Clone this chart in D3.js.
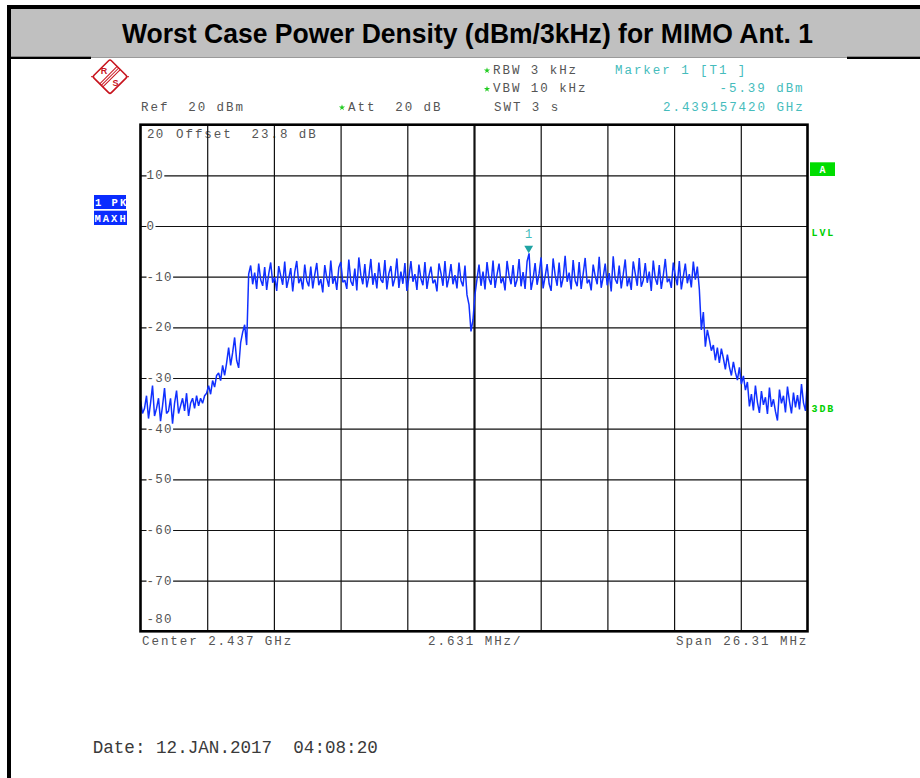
<!DOCTYPE html>
<html><head><meta charset="utf-8">
<script src="https://cdn.jsdelivr.net/npm/d3@7"></script>
<style>body{margin:0;background:#fff;} svg{display:block;}</style>
</head><body><svg id="c" width="920" height="778"></svg>
<script>
// ---------------- data ----------------
const chartTitle = "Worst Case Power Density (dBm/3kHz) for MIMO Ant. 1";
const centerGHz = 2.437;
const spanMHz = 26.31;
const refLevel = 20;
const bottomLevel = -80;
const yGridTicks = [10, 0, -10, -20, -30, -40, -50, -60, -70];
const yTickLabels = ["10", "0", "-10", "-20", "-30", "-40", "-50", "-60", "-70"];
const xGridOffsetsMHz = [-10.524, -7.893, -5.262, -2.631, 0, 2.631, 5.262, 7.893, 10.524];
const headerLeft = ["Ref  20 dBm", "Att  20 dB"];
const headerMid = ["RBW 3 kHz", "VBW 10 kHz", "SWT 3 s"];
const markerText = ["Marker 1 [T1 ]", "-5.39 dBm", "2.439157420 GHz"];
const markerPoint = { freqGHz: 2.439157420, level: -5.39, label: "1" };
const bottomLabels = ["Center 2.437 GHz", "2.631 MHz/", "Span 26.31 MHz"];
const dateText = "Date: 12.JAN.2017  04:08:20";
// trace (dBm), uniformly spaced across the span
const trace = [
 -34.5,-37.0,-36.0,-33.5,-38.0,-35.0,-31.5,-37.5,-36.0,-34.0,
 -38.5,-35.5,-32.0,-37.0,-36.5,-34.0,-39.0,-35.0,-32.5,-37.0,
 -35.5,-34.0,-36.5,-33.0,-37.5,-35.0,-34.0,-36.0,-33.5,-35.5,
 -34.0,-35.0,-33.5,
 -33.0,-31.5,-33.2,-30.5,-31.8,-29.5,
 -29.0,-30.5,-27.5,-29.5,-27.0,-24.0,-27.5,-25.0,-22.0,-26.5,-28.0,-23.0,-21.0,-19.5,-23.5,-9.5,
 -7.8,-11.5,-9.2,-12.4,-7.4,-10.6,-11.8,-8.1,-12.6,-9.5,
 -7.2,-11.2,-10.1,-12.8,-7.9,-9.8,-11.6,-7.0,-12.2,-10.4,
 -8.3,-12.9,-9.1,-6.9,-11.3,-10.2,-12.5,-7.6,-10.8,-11.9,
 -8.0,-12.3,-9.6,-7.3,-11.7,-10.5,-13.1,-7.7,-10.3,-12.0,
 -6.8,-11.4,-9.9,-12.6,-8.2,-7.1,-11.1,-10.7,-12.4,-6.6,
 -10.9,-11.8,-8.4,-12.7,-6.2,-9.7,-11.5,-7.5,-12.1,-10.0,
 -6.5,-11.6,-9.3,-12.3,-7.2,-10.6,-11.2,-6.7,-12.5,-9.4,
 -7.9,-11.9,-10.3,-6.4,-12.2,-9.0,-11.4,-7.3,-12.8,-10.1,
 -6.9,-11.0,-9.5,-12.6,-7.6,-10.4,-11.7,-7.1,-12.4,-9.8,
 -8.0,-11.3,-10.6,-12.9,-7.4,-9.3,-11.8,-6.9,-12.1,-10.2,
 -7.5,-11.5,-9.7,-12.3,-7.2,-10.8,-11.9,-7.8,-13.6,
 -15.5,-20.8,-18.5,-13.5,
 -10.5,-7.6,-11.8,-9.0,-12.5,-7.1,-10.4,-11.6,-6.8,-12.2,
 -9.6,-7.4,-11.3,-10.2,-12.7,-6.9,-9.8,-11.5,-7.7,-12.0,
 -10.6,-6.5,-11.9,-9.1,-12.4,-7.0,-5.4,-12.6,-10.5,-7.3,
 -11.6,-9.4,-6.2,-12.3,-10.0,-7.5,-11.4,-12.8,-6.4,-9.7,
 -11.8,-7.2,-12.1,-10.3,-5.9,-11.0,-9.2,-12.5,-6.7,-10.8,
 -11.9,-7.1,-12.4,-9.5,-6.3,-11.3,-10.6,-12.7,-7.6,-9.9,
 -11.5,-6.1,-12.2,-10.1,-7.4,-11.7,-9.3,-12.9,-6.0,-10.5,
 -11.4,-7.8,-12.3,-9.6,-6.6,-11.9,-10.2,-12.6,-7.0,-9.4,
 -11.8,-6.3,-12.0,-10.7,-7.3,-11.2,-9.0,-12.8,-6.8,-10.3,
 -11.6,-7.7,-12.4,-9.8,-6.5,-11.1,-10.4,-12.2,-7.2,-9.9,
 -11.7,-6.9,-12.5,-10.0,-7.4,-11.3,-9.5,-12.1,-7.0,-10.6,-8.0,
 -12.5,-20.5,-17.0,-23.8,-20.5,-22.4,-24.6,-23.5,-26.5,-24.0,
 -27.0,-24.2,-26.1,-28.3,-25.4,-27.8,-29.5,-26.8,-28.9,-30.4,-27.9,-31.2,-29.6,-32.4,
 -30.8,-35.6,-33.2,-36.4,-31.5,-34.8,-36.9,-32.6,-35.3,-33.8,
 -37.1,-31.9,-35.7,-34.2,-36.6,-38.4,-32.3,-35.0,-33.5,-36.8,
 -31.7,-34.6,-37.0,-32.9,-35.8,-33.4,-36.2,-31.2,-34.9,-36.5,-30.0
];

// ---------------- drawing ----------------
const svg = d3.select("#c");
const W = 920, H = 778;
const MONO = "'Liberation Mono', 'DejaVu Sans Mono', monospace";
const GREY = "#555", TEAL = "#45bcbc", GREEN = "#00d000", BLUE = "#0a2cff";
const FS = 12.5;
const LS = 9.45 - FS * 0.6; // ~9.45px pitch
const LS_Y = 8.8 - FS * 0.6;

svg.append("rect").attr("width", W).attr("height", H).attr("fill", "#fff");
// title band and frame
svg.append("rect").attr("x", 11).attr("y", 9).attr("width", W - 11).attr("height", 48).attr("fill", "#c0c0c0");
svg.append("rect").attr("x", 7).attr("y", 5).attr("width", W - 7).attr("height", 4).attr("fill", "#000");
svg.append("rect").attr("x", 7).attr("y", 5).attr("width", 4).attr("height", H - 5).attr("fill", "#000");
svg.append("rect").attr("x", 11).attr("y", 56.7).attr("width", 80).attr("height", 2.3).attr("fill", "#000");
svg.append("rect").attr("x", 847).attr("y", 56.7).attr("width", W - 847).attr("height", 2.3).attr("fill", "#000");
svg.append("line").attr("x1", 91).attr("x2", 847).attr("y1", 57.5).attr("y2", 57.5).attr("stroke", "#9a9a9a").attr("stroke-width", 1);
svg.append("text").text(chartTitle)
  .attr("x", 122).attr("y", 43)
  .attr("textLength", 691).attr("lengthAdjust", "spacingAndGlyphs")
  .style("font-family", "'Liberation Sans', Arial, sans-serif").style("font-weight", "bold")
  .style("font-size", "28px").attr("fill", "#000");

// R&S logo
const logo = svg.append("g").attr("transform", "translate(110,76.7)");
const lr = logo.append("g").attr("transform", "rotate(45)");
lr.append("rect").attr("x", -12.3).attr("y", -12.3).attr("width", 24.6).attr("height", 24.6).attr("rx", 2)
  .attr("fill", "none").attr("stroke", "#c8141e").attr("stroke-width", 1.6);
[-2.2, 0, 2.2].forEach(d => lr.append("line").attr("x1", d).attr("x2", d).attr("y1", -12.3).attr("y2", 12.3)
  .attr("stroke", "#c8141e").attr("stroke-width", 1));
logo.append("line").attr("x1", -19).attr("x2", -16).attr("y1", 0).attr("y2", 0).attr("stroke", "#c8141e").attr("stroke-width", 1);
logo.append("line").attr("x1", 16).attr("x2", 19).attr("y1", 0).attr("y2", 0).attr("stroke", "#c8141e").attr("stroke-width", 1);
logo.append("text").text("R").attr("x", -6).attr("y", -2.5).attr("text-anchor", "middle")
  .style("font-family", "'Liberation Sans', Arial").style("font-weight", "bold").style("font-size", "9px").attr("fill", "#c8141e");
logo.append("text").text("S").attr("x", 5.5).attr("y", 9.5).attr("text-anchor", "middle")
  .style("font-family", "'Liberation Sans', Arial").style("font-weight", "bold").style("font-size", "9px").attr("fill", "#c8141e");

function mono(s, x, yb, color, size, ls, weight) {
  return svg.append("text").text(s).attr("x", x).attr("y", yb)
    .attr("xml:space", "preserve")
    .style("white-space", "pre")
    .style("font-family", MONO).style("font-size", (size || FS) + "px")
    .style("letter-spacing", (ls === undefined ? LS : ls) + "px")
    .style("font-weight", weight || "normal")
    .attr("fill", color);
}
function star(cx, cy) {
  svg.append("path").attr("d", d3.symbol(d3.symbolStar).size(12)())
    .attr("transform", `translate(${cx},${cy})`).attr("fill", "#22cc22");
}

// header
mono(headerLeft[0], 141, 110.5, GREY);
star(342, 107.5);
mono(headerLeft[1], 348, 110.5, GREY);
star(487, 70.5); star(487, 89);
mono(headerMid[0], 493, 73.8, GREY);
mono(headerMid[1], 493, 92.2, GREY);
mono(headerMid[2], 494, 110.5, GREY);
mono(markerText[0], 615, 73.8, TEAL);
mono(markerText[1], 719.5, 92.2, TEAL);
mono(markerText[2], 663, 110.5, TEAL);

// scales
const plot = { l: 140.5, r: 807.5, t: 124.7, b: 631.3 };
const halfSpanGHz = spanMHz / 2000;
const x = d3.scaleLinear().domain([centerGHz - halfSpanGHz, centerGHz + halfSpanGHz]).range([plot.l, plot.r]);
const y = d3.scaleLinear().domain([bottomLevel, refLevel]).range([plot.b, plot.t]);

// offset text (below grid)
mono("20", 147, 137.5, GREY, FS, LS_Y);
mono("Offset  23.8 dB", 176, 137.5, GREY);

// grid
const gy = svg.append("g").attr("transform", `translate(${plot.l},0)`)
  .call(d3.axisRight(y).tickValues(yGridTicks).tickSize(plot.r - plot.l).tickFormat(""));
gy.select(".domain").remove();
gy.selectAll("line").attr("stroke", "#111").attr("stroke-width", 1.2);
const gx = svg.append("g").attr("transform", `translate(0,${plot.t})`)
  .call(d3.axisBottom(x).tickValues(xGridOffsetsMHz.map(m => centerGHz + m / 1000)).tickSize(plot.b - plot.t).tickFormat(""));
gx.select(".domain").remove();
gx.selectAll("line").attr("stroke", "#111").attr("stroke-width", (d) => Math.abs(d - centerGHz) < 1e-9 ? 2.2 : 1.2);

// y labels with white background
yGridTicks.forEach((v, i) => {
  const s = yTickLabels[i];
  const yy = y(v);
  svg.append("rect").attr("x", 146.5).attr("y", yy - 5).attr("width", (s.length - 1) * 8.8 + 9).attr("height", 10).attr("fill", "#fff");
  mono(s, 146.5, yy + 4, GREY, FS, LS_Y);
});
mono("-80", 146.5, 622.5, GREY, FS, LS_Y);

// trace
const step = (2 * halfSpanGHz) / (trace.length - 1);
svg.append("clipPath").attr("id", "clip").append("rect")
  .attr("x", plot.l).attr("y", plot.t).attr("width", plot.r - plot.l).attr("height", plot.b - plot.t);
const line = d3.line()
  .x((d, i) => x(centerGHz - halfSpanGHz + i * step))
  .y(d => y(d));
svg.append("path").datum(trace).attr("d", line).attr("clip-path", "url(#clip)")
  .attr("fill", "none").attr("stroke", "#1030ff").attr("stroke-width", 1.5).attr("stroke-linejoin", "bevel");

// plot border
svg.append("rect").attr("x", plot.l).attr("y", plot.t).attr("width", plot.r - plot.l).attr("height", plot.b - plot.t)
  .attr("fill", "none").attr("stroke", "#000").attr("stroke-width", 2.6);

// marker
const mx = x(markerPoint.freqGHz), my = y(markerPoint.level);
svg.append("path").attr("d", `M${mx - 4.4},${my - 7.7}L${mx + 4.4},${my - 7.7}L${mx},${my}Z`).attr("fill", "#1fa3a3");
svg.append("text").text(markerPoint.label).attr("x", mx).attr("y", my - 15.3).attr("text-anchor", "middle")
  .style("font-family", MONO).style("font-size", "12px").attr("fill", TEAL);

// bottom labels
mono(bottomLabels[0], 142, 645, GREY);
mono(bottomLabels[1], 428, 645, GREY);
mono(bottomLabels[2], 676, 645, GREY);

// left trace boxes
svg.append("rect").attr("x", 94).attr("y", 195).attr("width", 32).attr("height", 14).attr("fill", BLUE);
mono("1 PK", 95, 205.5, "#fff", 10.5, 2.0, "bold");
svg.append("rect").attr("x", 94).attr("y", 210.7).attr("width", 33).attr("height", 14.3).attr("fill", BLUE);
mono("MAXH", 94.5, 221.5, "#fff", 10.5, 2.0, "bold");

// right labels
svg.append("rect").attr("x", 810).attr("y", 162.3).attr("width", 25).attr("height", 13.7).attr("fill", "#00dd00");
svg.append("text").text("A").attr("x", 822.5).attr("y", 172.5).attr("text-anchor", "middle")
  .style("font-family", MONO).style("font-size", "10px").style("font-weight", "bold").attr("fill", "#fff");
mono("LVL", 811.5, 236, GREEN, 10, 1.9, "bold");
mono("3DB", 811.5, 411.5, GREEN, 10, 1.9, "bold");

// date
mono(dateText, 92.7, 752.5, "#3a3a3a", 17.6, 0);
</script>
</body></html>
